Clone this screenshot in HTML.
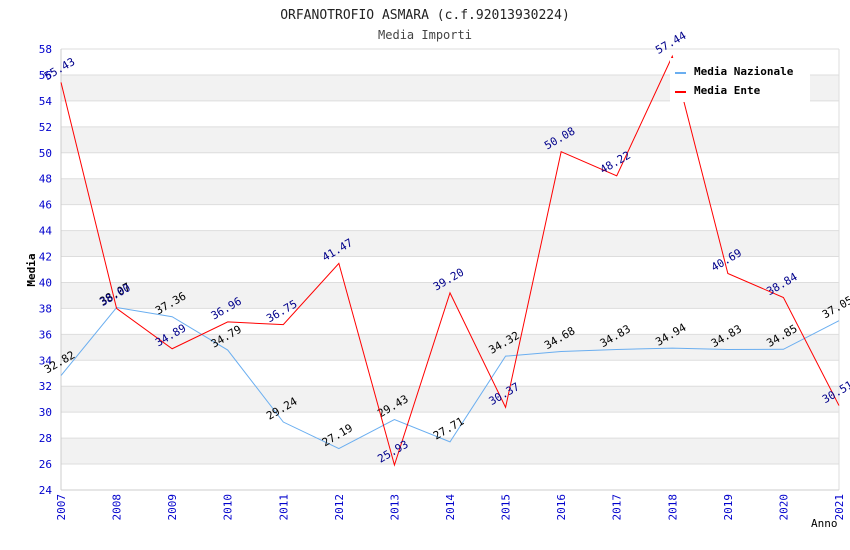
<!DOCTYPE html>
<html><head><meta charset="utf-8"><style>
body{margin:0;background:#fff}
svg{display:block;font-family:"DejaVu Sans Mono","Liberation Mono",monospace}
</style></head><body>
<svg id="c" width="850" height="550">
<text x="425" y="19" text-anchor="middle" font-size="13" fill="#222">ORFANOTROFIO ASMARA (c.f.92013930224)</text>
<text x="425" y="39" text-anchor="middle" font-size="12" fill="#444">Media Importi</text>
<g id="grid"></g><g id="axes"></g><g id="series"></g>
<text x="35" y="270" font-size="11" font-weight="bold" text-anchor="middle" transform="rotate(-90 35 270)">Media</text>
<text x="811" y="527" font-size="11">Anno</text>
<g>
<rect x="670" y="58" width="140" height="44" fill="#fff"/>
<line x1="675" y1="73" x2="686" y2="73" stroke="#6aaef0" stroke-width="2"/>
<text x="694" y="75" font-size="11" font-weight="bold">Media Nazionale</text>
<line x1="675" y1="92" x2="686" y2="92" stroke="red" stroke-width="2"/>
<text x="694" y="94" font-size="11" font-weight="bold">Media Ente</text>
</g>
</svg>
<script>
const years=[2007,2008,2009,2010,2011,2012,2013,2014,2015,2016,2017,2018,2019,2020,2021];
const nazionale=[32.82,38.07,37.36,34.79,29.24,27.19,29.43,27.71,34.32,34.68,34.83,34.94,34.83,34.85,37.05];
const ente=[55.43,38.00,34.89,36.96,36.75,41.47,25.93,39.20,30.37,50.08,48.22,57.44,40.69,38.84,30.51];
const yTicks=[24,26,28,30,32,34,36,38,40,42,44,46,48,50,52,54,56,58];
const X0=61,X1=839,Y0=490,Y1=49,ymin=24,ymax=58;
const xs=i=>X0+(X1-X0)*i/(years.length-1);
const ys=v=>Y0-(v-ymin)*(Y0-Y1)/(ymax-ymin);
const NS="http://www.w3.org/2000/svg";
function mk(t,a,p){const e=document.createElementNS(NS,t);for(const k in a)e.setAttribute(k,a[k]);p.appendChild(e);return e;}
const grid=document.getElementById('grid'),axes=document.getElementById('axes'),ser=document.getElementById('series');
yTicks.forEach((t,i)=>{
 if(i<yTicks.length-1&&t%4===2){const r=mk('rect',{x:X0,y:ys(t+2),width:X1-X0,height:ys(t)-ys(t+2),fill:'#f2f2f2'},grid);
 
 }
 const l=mk('line',{x1:X0,x2:X1,y1:ys(t),y2:ys(t),stroke:'#ddd'},grid);
 
 
 const tx=mk('text',{x:X0-9,y:ys(t)+4,'text-anchor':'end','font-size':11,fill:'#00c'},axes);tx.textContent=t;
 
 
});
mk('line',{x1:X1,x2:X1,y1:Y1,y2:Y0,stroke:'#ddd'},grid);
mk('line',{x1:X0,x2:X0,y1:Y1,y2:Y0,stroke:'#ccc'},axes);
mk('line',{x1:X0,x2:X1,y1:Y0,y2:Y0,stroke:'#ccc'},axes);
years.forEach((y,i)=>{
 const x=xs(i);
 const t=mk('text',{x:x+4,y:Y0+4,'text-anchor':'end','font-size':11,fill:'#00c',transform:`rotate(-90 ${x+4} ${Y0+4})`},axes);
 t.textContent=y;
 
 
});
function draw(vals,color,lab,name){
 const p=mk('polyline',{points:vals.map((v,i)=>xs(i)+','+ys(v)).join(' '),fill:'none',stroke:color,'stroke-width':1},ser);
 
 
 vals.forEach((v,i)=>{
  const x=xs(i)-14,y=ys(v)-2;
  const t=mk('text',{x:x,y:y,'font-size':11,fill:lab,transform:`rotate(-30 ${x} ${y})`},ser);
  t.textContent=v.toFixed(2);
  
  
 });
}
draw(nazionale,'#6aaef0','#000','nazionale');
draw(ente,'#ff0000','#00008b','ente');
</script>
</body></html>
